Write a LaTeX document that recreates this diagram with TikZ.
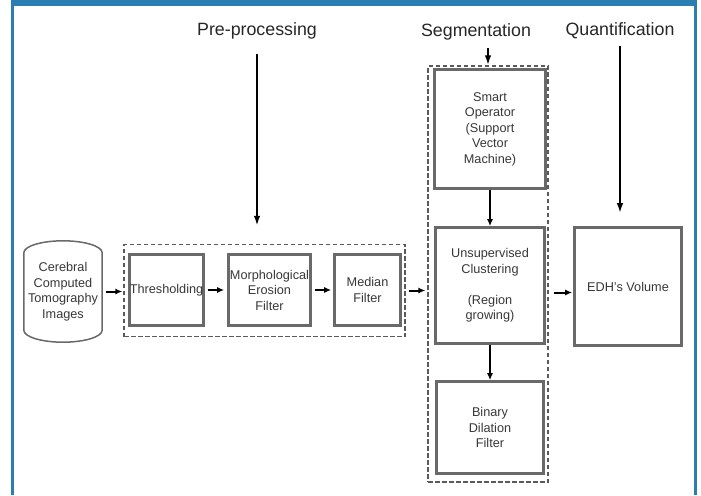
\documentclass[tikz,border=0pt]{standalone}
\usepackage{fontspec}
\setmainfont{Liberation Sans}
\usetikzlibrary{arrows.meta}
\definecolor{FrameClr}{RGB}{42,126,178}
\definecolor{BoxClr}{RGB}{105,105,105}
\definecolor{GroupClr}{RGB}{90,90,90}
\definecolor{TextClr}{RGB}{55,55,55}
\newcommand\boxfont{\fontsize{12.7}{15.5}\selectfont}
\newcommand\stagefont{\fontsize{17.8}{20}\selectfont}

\begin{document}
\begin{tikzpicture}[x=1pt,y=-1pt,
  box/.style={draw=BoxClr,line width=2.6pt,inner sep=0pt,align=center,font=\boxfont,text=TextClr},
  group/.style={draw=GroupClr,line width=1.3pt,dash pattern=on 4.5pt off 2.5pt,inner sep=0pt},
  stage/.style={font=\stagefont,text=black!85},
  flow/.style={-{Latex[length=7pt,width=6pt]},line width=2pt},
  feed/.style={-{Latex[length=10pt,width=6.5pt]},line width=2.3pt}]
\useasboundingbox (0,0) rectangle (701,495);

% frame
\fill[FrameClr] (11,0) rectangle (697,6);
\fill[FrameClr] (11,0) rectangle (14,495);
\fill[FrameClr] (694,0) rectangle (697,495);

% stage titles
\node[stage] (hpre) at (257,31) {Pre-processing};
\node[stage] (hseg) at (476,32) {Segmentation};
\node[stage] (hqua) at (620,31) {Quantification};

% groups
\node[group,minimum width=281,minimum height=92] (pre) at (264.5,290.5) {};
\node[group,minimum width=120,minimum height=416] (seg) at (488,274) {};

% input images
\node[align=center,font=\boxfont,text=TextClr,inner sep=0pt,minimum width=78,minimum height=101] (ct) at (63,291.5)
  {Cerebral\\Computed\\Tomography\\Images};
\draw[BoxClr,line width=1.5pt] ([yshift=-12pt]ct.north west) .. controls +(0,-6.6) and +(-21.5,0) .. (ct.north)
  .. controls +(21.5,0) and +(0,-6.6) .. ([yshift=-12pt]ct.north east)
  -- ([yshift=12pt]ct.south east) .. controls +(0,6.6) and +(21.5,0) .. (ct.south)
  .. controls +(-21.5,0) and +(0,6.6) .. ([yshift=12pt]ct.south west) -- cycle;

% pre-processing
\node[box,minimum width=74,minimum height=71] (thr) at (166.5,290) {Thresholding};
\node[box,minimum width=82,minimum height=71] (ero) at (269.5,290) {Morphological\\Erosion\\Filter};
\node[box,minimum width=66,minimum height=71] (med) at (367.5,290) {Median\\Filter};

% segmentation
\node[box,minimum width=111,minimum height=119] (svm) at (490,129) {Smart\\Operator\\(Support\\Vector\\Machine)};
\node[box,minimum width=109,minimum height=116] (reg) at (490,285.5) {Unsupervised\\Clustering\\[15.5pt](Region\\growing)};
\node[box,minimum width=107,minimum height=92] (dil) at (490,427.5) {Binary\\Dilation\\Filter};

% quantification
\node[box,minimum width=107,minimum height=118] (edh) at (628,286.5) {EDH's Volume};

\draw[flow,shorten <=4pt,shorten >=1pt] (ct.east) -- (ct.east -| pre.west);
\draw[flow,shorten <=3pt,shorten >=3pt] (thr) -- (ero);
\draw[flow,shorten <=3pt,shorten >=2pt] (ero) -- (med);
\draw[flow,shorten <=3pt,shorten >=2pt] (pre.east) -- (pre.east -| seg.west);
\draw[flow] (svm) -- (reg);
\draw[flow] (reg) -- (dil);
\draw[flow,shorten <=5pt,shorten >=1pt] ([yshift=-6pt]edh.west -| seg.east) -- ([yshift=-6pt]edh.west);

\draw[feed,shorten <=11pt,shorten >=18pt] (hpre.south) -- (hpre.south |- pre.north);
\draw[feed,shorten <=4pt] (hseg.south -| seg.north) -- (seg.north);
\draw[feed,shorten <=3pt,shorten >=13pt] (hqua.south) -- (hqua.south |- edh.north);
\end{tikzpicture}
\end{document}
